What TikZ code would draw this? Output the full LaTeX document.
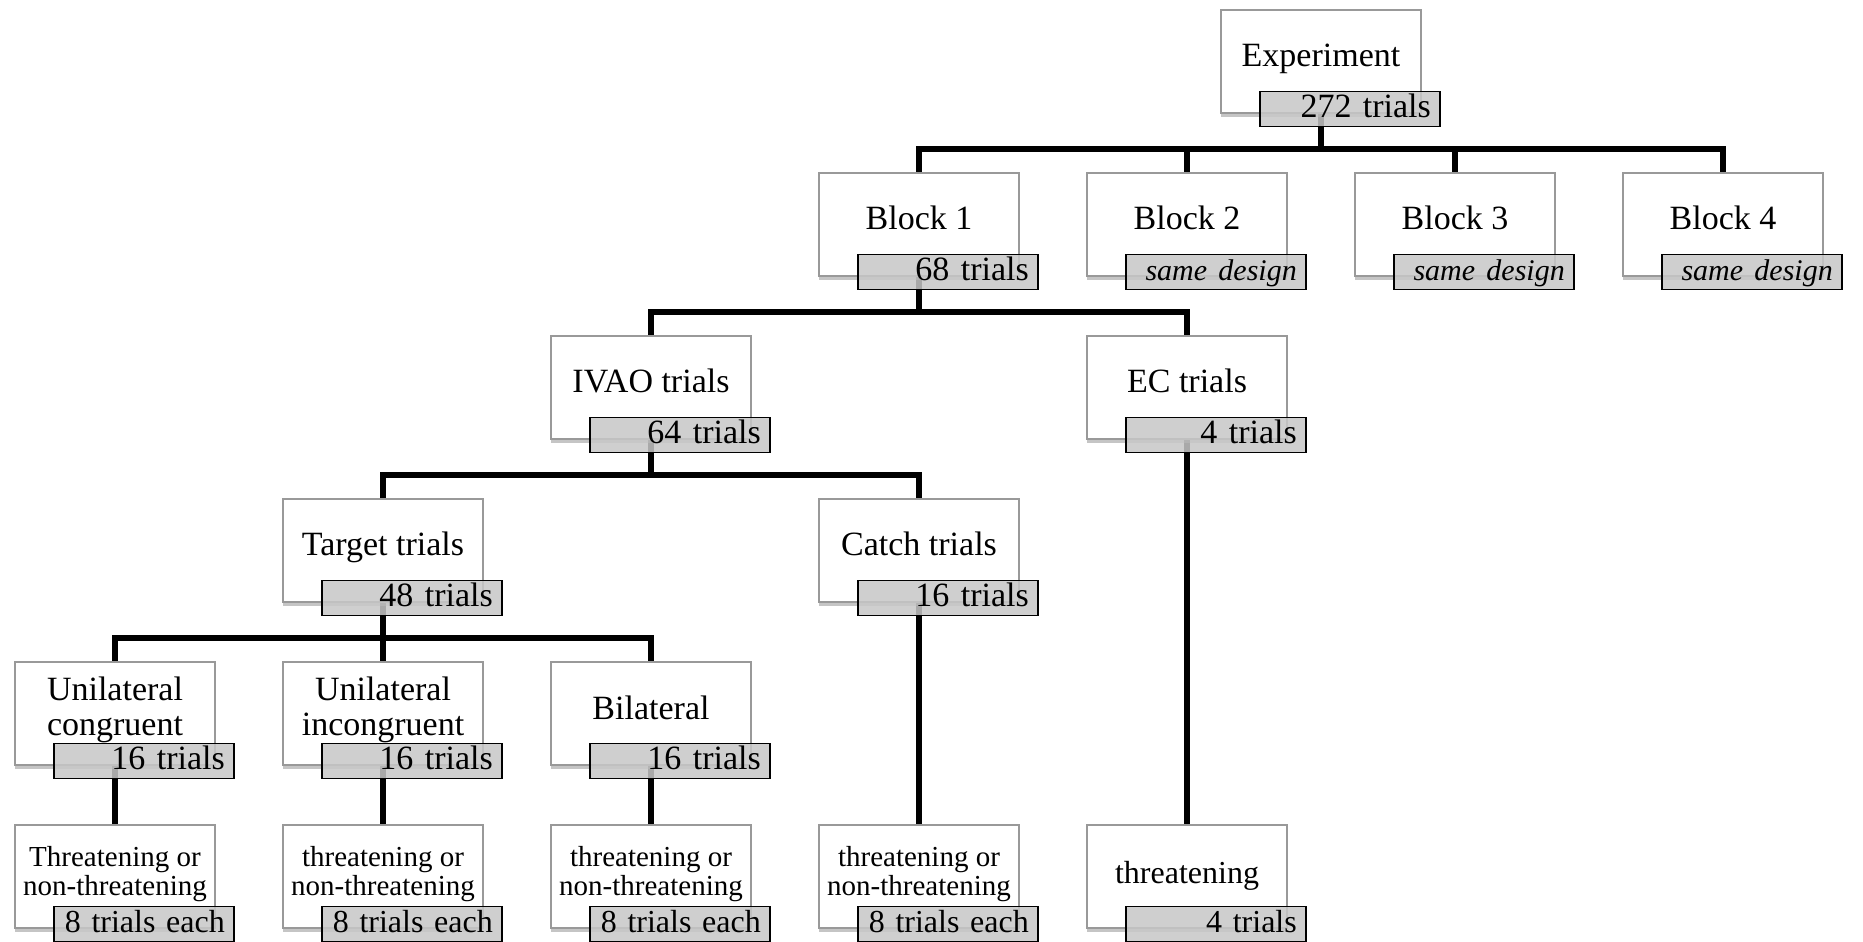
\documentclass[tikz,border=0pt]{standalone}
\usepackage{fontspec}
\setmainfont{Liberation Serif}
\usetikzlibrary{positioning, backgrounds, shadows}

\begin{document}
\begin{tikzpicture}[x=0.5pt, y=-0.5pt,
    trialbox/.style={draw=black!40, fill=white, line width=0.6pt, minimum width=100pt,
      minimum height=51.5pt, inner sep=0pt,
      drop shadow={shadow xshift=0pt, shadow yshift=-1.8pt, opacity=0.5, fill=black!45}},
    boxtext/.style={align=center, inner sep=0pt, text height=11.6pt, text depth=0pt,
      font=\fontsize{17}{17}\selectfont},
    twotext/.style={align=center, inner sep=0pt, font=\fontsize{17}{17.3}\selectfont},
    smalltext/.style={twotext, font=\fontsize{14.5}{14.8}\selectfont},
    tally/.style={draw=black, line width=0.8pt, fill=black!22, fill opacity=0.85, text opacity=1,
      anchor=north east, minimum height=17.5pt, text width=81pt, inner xsep=4.5pt, inner ysep=0pt,
      align=right, text height=11.5pt, text depth=3pt, font=\fontsize{17}{17}\selectfont},
    smalltally/.style={tally, font=\fontsize{16}{16}\selectfont},
    link/.style={line width=3pt}]
  \useasboundingbox (0,0) rectangle (1863,942);

  % boxes
  \node[trialbox] (exp)    at (1321,61.5)  {};
  \node[trialbox] (b1)     at (919,224.5)  {};
  \node[trialbox] (b2)     at (1187,224.5) {};
  \node[trialbox] (b3)     at (1455,224.5) {};
  \node[trialbox] (b4)     at (1723,224.5) {};
  \node[trialbox] (ivao)   at (651,387.5)  {};
  \node[trialbox] (ec)     at (1187,387.5) {};
  \node[trialbox] (target) at (383,550.5)  {};
  \node[trialbox] (catch)  at (919,550.5)  {};
  \node[trialbox] (ucon)   at (115,713.5)  {};
  \node[trialbox] (uinc)   at (383,713.5)  {};
  \node[trialbox] (bilat)  at (651,713.5)  {};
  \node[trialbox] (tcon)   at (115,876.5)  {};
  \node[trialbox] (tinc)   at (383,876.5)  {};
  \node[trialbox] (tbil)   at (651,876.5)  {};
  \node[trialbox] (tcatch) at (919,876.5)  {};
  \node[trialbox] (tec)    at (1187,876.5) {};

  % texts
  \node[boxtext] (exp-t)    at ([yshift=-22.5pt]exp.north)    {Experiment};
  \node[boxtext] (b1-t)     at ([yshift=-22.5pt]b1.north)     {Block 1};
  \node[boxtext] (b2-t)     at ([yshift=-22.5pt]b2.north)     {Block 2};
  \node[boxtext] (b3-t)     at ([yshift=-22.5pt]b3.north)     {Block 3};
  \node[boxtext] (b4-t)     at ([yshift=-22.5pt]b4.north)     {Block 4};
  \node[boxtext] (ivao-t)   at ([yshift=-22.5pt]ivao.north)   {IVAO trials};
  \node[boxtext] (ec-t)     at ([yshift=-22.5pt]ec.north)     {EC trials};
  \node[boxtext] (target-t) at ([yshift=-22.5pt]target.north) {Target trials};
  \node[boxtext] (catch-t)  at ([yshift=-22.5pt]catch.north)  {Catch trials};
  \node[twotext] (ucon-t)   at ([yshift=-24.2pt]ucon.north)   {Unilateral\\congruent};
  \node[twotext] (uinc-t)   at ([yshift=-24.2pt]uinc.north)   {Unilateral\\incongruent};
  \node[boxtext] (bilat-t)  at ([yshift=-23pt]bilat.north)    {Bilateral};
  \node[smalltext] (tcon-t)   at ([yshift=-24.8pt]tcon.north)   {Threatening or\\non-threatening};
  \node[smalltext] (tinc-t)   at ([yshift=-24.8pt]tinc.north)   {threatening or\\non-threatening};
  \node[smalltext] (tbil-t)   at ([yshift=-24.8pt]tbil.north)   {threatening or\\non-threatening};
  \node[smalltext] (tcatch-t) at ([yshift=-24.8pt]tcatch.north) {threatening or\\non-threatening};
  \node[boxtext, text height=10.9pt, font=\fontsize{16}{16}\selectfont] (tec-t)
    at ([yshift=-24pt]tec.north) {threatening};

  % connectors
  \coordinate (bus0) at (0,149);
  \coordinate (bus1) at (0,312);
  \coordinate (bus2) at (0,475);
  \coordinate (bus3) at (0,638);
  \begin{scope}[on background layer]
    \draw[link] (exp.south) -- (exp |- bus0);
    \draw[link] (b1.north) |- (b4 |- bus0) -- (b4.north);
    \draw[link] (b2.north) -- (b2 |- bus0);
    \draw[link] (b3.north) -- (b3 |- bus0);
    \draw[link] (b1.south) -- (b1 |- bus1);
    \draw[link] (ivao.north) |- (ec |- bus1) -- (ec.north);
    \draw[link] (ivao.south) -- (ivao |- bus2);
    \draw[link] (target.north) |- (catch |- bus2) -- (catch.north);
    \draw[link] (target.south) -- (uinc.north);
    \draw[link] (ucon.north) |- (bilat |- bus3) -- (bilat.north);
    \draw[link] (ec.south) -- (tec.north);
    \draw[link] (catch.south) -- (tcatch.north);
    \draw[link] (ucon.south) -- (tcon.north);
    \draw[link] (uinc.south) -- (tinc.north);
    \draw[link] (bilat.south) -- (tbil.north);
  \end{scope}

  % trial counts
  \node[tally] (exp-n)    at ([shift={(9.5pt,11.5pt)}]exp.south east)    {272 trials};
  \node[tally] (b1-n)     at ([shift={(9.5pt,11.5pt)}]b1.south east)     {68 trials};
  \node[tally] (b2-n)     at ([shift={(9.5pt,11.5pt)}]b2.south east)     {\fontsize{15}{15}\selectfont\itshape same design};
  \node[tally] (b3-n)     at ([shift={(9.5pt,11.5pt)}]b3.south east)     {\fontsize{15}{15}\selectfont\itshape same design};
  \node[tally] (b4-n)     at ([shift={(9.5pt,11.5pt)}]b4.south east)     {\fontsize{15}{15}\selectfont\itshape same design};
  \node[tally] (ivao-n)   at ([shift={(9.5pt,11.5pt)}]ivao.south east)   {64 trials};
  \node[tally] (ec-n)     at ([shift={(9.5pt,11.5pt)}]ec.south east)     {4 trials};
  \node[tally] (target-n) at ([shift={(9.5pt,11.5pt)}]target.south east) {48 trials};
  \node[tally] (catch-n)  at ([shift={(9.5pt,11.5pt)}]catch.south east)  {16 trials};
  \node[tally] (ucon-n)   at ([shift={(9.5pt,11.5pt)}]ucon.south east)   {16 trials};
  \node[tally] (uinc-n)   at ([shift={(9.5pt,11.5pt)}]uinc.south east)   {16 trials};
  \node[tally] (bilat-n)  at ([shift={(9.5pt,11.5pt)}]bilat.south east)  {16 trials};
  \node[smalltally] (tcon-n)   at ([shift={(9.5pt,11.5pt)}]tcon.south east)   {8 trials each};
  \node[smalltally] (tinc-n)   at ([shift={(9.5pt,11.5pt)}]tinc.south east)   {8 trials each};
  \node[smalltally] (tbil-n)   at ([shift={(9.5pt,11.5pt)}]tbil.south east)   {8 trials each};
  \node[smalltally] (tcatch-n) at ([shift={(9.5pt,11.5pt)}]tcatch.south east) {8 trials each};
  \node[smalltally] (tec-n)    at ([shift={(9.5pt,11.5pt)}]tec.south east)    {4 trials};
\end{tikzpicture}
\end{document}
